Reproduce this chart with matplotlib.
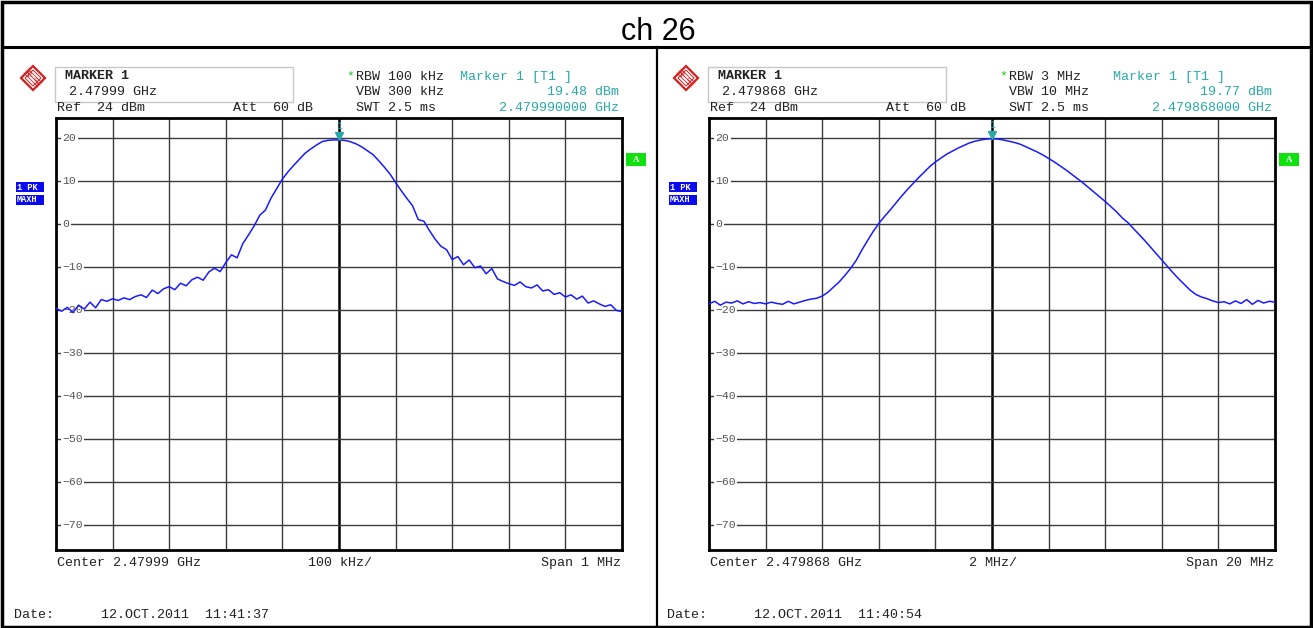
import matplotlib
matplotlib.use("Agg")
import matplotlib.pyplot as plt
import matplotlib.transforms as mtransforms
from matplotlib.patches import Rectangle, Polygon
import numpy as np

# ----------------------------------------------------------------------------
# Data
# ----------------------------------------------------------------------------

# left screen: RBW 100 kHz, span 1 MHz, offsets from 2.47999 GHz in kHz
left_freq_khz = np.arange(-500, 501, 10)
left_level_dbm = [
    -19.6, -20.3, -19.4, -20.6, -18.9, -19.8, -18.2, -19.5, -17.6, -18.0,
    -17.4, -17.8, -17.2, -17.6, -16.9, -16.5, -17.1, -15.4, -16.2, -15.1,
    -14.6, -15.3, -13.8, -14.4, -13.0, -12.4, -13.1, -11.2, -10.3, -11.1,
    -9.0, -7.2, -7.9, -4.6, -2.6, -0.5, 2.0, 3.2, 6.0, 8.2,
    10.4, 12.1, 13.6, 15.0, 16.4, 17.4, 18.3, 19.1, 19.4, 19.5,
    19.5, 19.4, 19.1, 18.6, 17.9, 17.0, 16.1, 14.7, 13.2, 11.6,
    9.6, 7.7, 5.9, 4.2, 1.0, 0.6, -1.6, -3.6, -5.2, -6.0,
    -8.3, -7.6, -9.5, -8.4, -10.2, -9.8, -11.6, -10.4, -12.8, -13.4,
    -13.9, -14.3, -13.5, -14.6, -14.9, -14.2, -15.6, -15.3, -16.4, -16.0,
    -17.0, -16.5, -17.5, -16.8, -18.4, -17.9, -18.6, -19.2, -18.8, -20.1,
    -20.4,
]

# right screen: RBW 3 MHz, span 20 MHz, offsets from 2.479868 GHz in MHz
right_freq_mhz = np.linspace(-10.0, 10.0, 101)
right_level_dbm = [
    -18.6, -18.0, -18.9, -18.2, -18.4, -17.9, -18.6, -18.1, -18.5, -18.3,
    -18.6, -18.2, -18.5, -18.7, -18.0, -18.6, -18.2, -17.8, -17.5, -17.3,
    -16.8, -15.9, -14.7, -13.5, -12.0, -10.4, -8.5, -6.1, -3.9, -1.8,
    0.1, 1.7, 3.2, 4.8, 6.4, 7.9, 9.3, 10.7, 12.0, 13.3,
    14.4, 15.3, 16.2, 16.9, 17.6, 18.2, 18.8, 19.2, 19.5, 19.7,
    19.77, 19.7, 19.5, 19.2, 18.9, 18.5, 17.9, 17.3, 16.7, 16.0,
    15.2, 14.4, 13.5, 12.6, 11.6, 10.6, 9.6, 8.5, 7.4, 6.3,
    5.2, 4.0, 2.8, 1.4, 0.3, -1.1, -2.5, -3.9, -5.4, -6.9,
    -8.4, -9.9, -11.4, -12.8, -14.1, -15.4, -16.4, -17.0, -17.4, -17.9,
    -18.3, -18.1, -18.6, -17.9, -18.5, -17.6, -18.7, -17.8, -18.4, -18.0,
    -18.2,
]

db_labels = [20, 10, 0, -10, -20, -30, -40, -50, -60, -70]

left_header = ["2.47999 GHz", "100 kHz", "300 kHz", "19.48 dBm", "2.479990000 GHz"]
right_header = ["2.479868 GHz", "3 MHz", "10 MHz", "19.77 dBm", "2.479868000 GHz"]
left_footer = ["Center 2.47999 GHz", "100 kHz/", "Span 1 MHz", "12.OCT.2011  11:41:37"]
right_footer = ["Center 2.479868 GHz", "2 MHz/", "Span 20 MHz", "12.OCT.2011  11:40:54"]

# ----------------------------------------------------------------------------
# Layout (pixels)
# ----------------------------------------------------------------------------

W, H = 1313, 628
MONO = "Liberation Mono"
TEAL = "#2aa8a8"
TRACE = "#1a1aff"
GRID = "#3a3a3a"

fig = plt.figure(figsize=(W / 100, H / 100), dpi=100)
bg = fig.add_axes([0, 0, 1, 1])
bg.set_xlim(0, W)
bg.set_ylim(H, 0)
bg.axis("off")

# outer frame, title strip, divider
bg.add_patch(Rectangle((2, 2), W - 4, H - 3, fill=False, ec="black", lw=2.5))
bg.plot([2, W - 2], [47, 47], color="black", lw=2.2)
bg.plot([657, 657], [47, H], color="black", lw=1.6)
bg.text(658, 32, "ch 26", ha="center", va="center", fontsize=22,
        family="Liberation Sans")


def txt(x, y, s, **kw):
    kw.setdefault("family", MONO)
    kw.setdefault("fontsize", 9.6)
    kw.setdefault("color", "#222222")
    bg.text(x, y, s, va="center", **kw)


def draw_logo(cx, cy):
    r = 12
    bg.add_patch(Polygon([(cx, cy - r), (cx + r, cy), (cx, cy + r), (cx - r, cy)],
                         closed=True, fill=False, ec="#d42020", lw=1.6))
    r2 = 8
    bg.add_patch(Polygon([(cx, cy - r2), (cx + r2, cy), (cx, cy + r2), (cx - r2, cy)],
                         closed=True, fill=False, ec="#d42020", lw=0.7))
    for d in (-2, 0, 2):
        bg.plot([cx - 7 + d, cx + 7 + d], [cy - 7 - d, cy + 7 - d],
                color="#d42020", lw=0.6)
    bg.text(cx - 3, cy - 3, "R", color="#d42020", fontsize=6, ha="center",
            va="center", family="Liberation Serif")
    bg.text(cx + 3, cy + 4, "S", color="#d42020", fontsize=6, ha="center",
            va="center", family="Liberation Serif")


def draw_panel(x0, freq, level, xlim, header, footer):
    """One analyzer screen; x0 is the left edge of the graticule in pixels."""
    gw, top, bot = 566, 118, 550
    ax = fig.add_axes([x0 / W, 1 - bot / H, gw / W, (bot - top) / H])
    ax.set_xlim(*xlim)
    ax.set_ylim(-75.8, 24.6)
    ax.set_xticks([])
    ax.set_yticks([])
    for sp in ax.spines.values():
        sp.set_linewidth(2.0)
        sp.set_color("black")

    # graticule: 10 divisions across, labelled dB lines
    for i in range(1, 10):
        xv = xlim[0] + (xlim[1] - xlim[0]) * i / 10
        ax.axvline(xv, color=GRID if i != 5 else "black",
                   lw=1.0 if i != 5 else 1.8, zorder=1)
    blend = mtransforms.blended_transform_factory(ax.transAxes, ax.transData)
    for v in db_labels:
        ax.axhline(v, color=GRID, lw=1.0, zorder=1)
        ax.text(6.5 / gw, v, str(v).replace("-", "\u2212"), transform=blend,
                ha="left", va="center", fontsize=8.2, family=MONO,
                color="#555555", zorder=2,
                bbox=dict(boxstyle="square,pad=0.12", fc="white", ec="none"))

    ax.plot(freq, level, color=TRACE, lw=1.1, zorder=3)

    # marker 1 on the peak
    ax.plot([0], [max(level) + 0.9], marker="v", ms=6, color=TEAL, zorder=4,
            clip_on=False)
    ax.text(0, max(level) + 3.3, "1", ha="center", va="center", fontsize=7,
            color=TEAL, family=MONO, clip_on=False, zorder=4)

    # header block
    draw_logo(x0 - 23, 78)
    bg.add_patch(Rectangle((x0 - 1, 67), 238, 35, fill=False, ec="#c8c8c8", lw=1.0))
    txt(x0 + 9, 76, "MARKER 1", fontweight="bold")
    txt(x0 + 13, 92, header[0])
    txt(x0 + 1, 108, "Ref  24 dBm")
    txt(x0 + 177, 108, "Att  60 dB")
    txt(x0 + 290, 76, "*", color="#20c020")
    txt(x0 + 300, 77, "RBW " + header[1])
    txt(x0 + 300, 92, "VBW " + header[2])
    txt(x0 + 300, 108, "SWT 2.5 ms")
    txt(x0 + 404, 77, "Marker 1 [T1 ]", color=TEAL)
    txt(x0 + 563, 92, header[3], color=TEAL, ha="right")
    txt(x0 + 563, 108, header[4], color=TEAL, ha="right")

    # side badges
    bg.add_patch(Rectangle((x0 + 570, 153), 20, 13, fc="#10e010", ec="none"))
    bg.text(x0 + 580, 159.5, "A", ha="center", va="center", color="white",
            fontsize=6.5, fontweight="bold", family="Liberation Serif")
    bg.add_patch(Rectangle((x0 - 40, 182), 28, 10, fc="#0a0af0", ec="none"))
    bg.add_patch(Rectangle((x0 - 40, 195), 28, 10, fc="#0a0af0", ec="none"))
    bg.text(x0 - 39, 187, "1 PK", va="center", color="white", fontsize=6.2,
            fontweight="bold", family=MONO)
    bg.text(x0 - 39, 200, "MAXH", va="center", color="white", fontsize=6.2,
            fontweight="bold", family=MONO)

    # footer
    txt(x0 + 1, 563, footer[0])
    txt(x0 + 284, 563, footer[1], ha="center")
    txt(x0 + 565, 563, footer[2], ha="right")
    txt(x0 - 42, 615, "Date:")
    txt(x0 + 45, 615, footer[3])
    return ax


draw_panel(56, left_freq_khz, left_level_dbm, (-500, 500), left_header, left_footer)
draw_panel(709, right_freq_mhz, right_level_dbm, (-10, 10), right_header, right_footer)

fig.savefig("out.png", dpi=100)
